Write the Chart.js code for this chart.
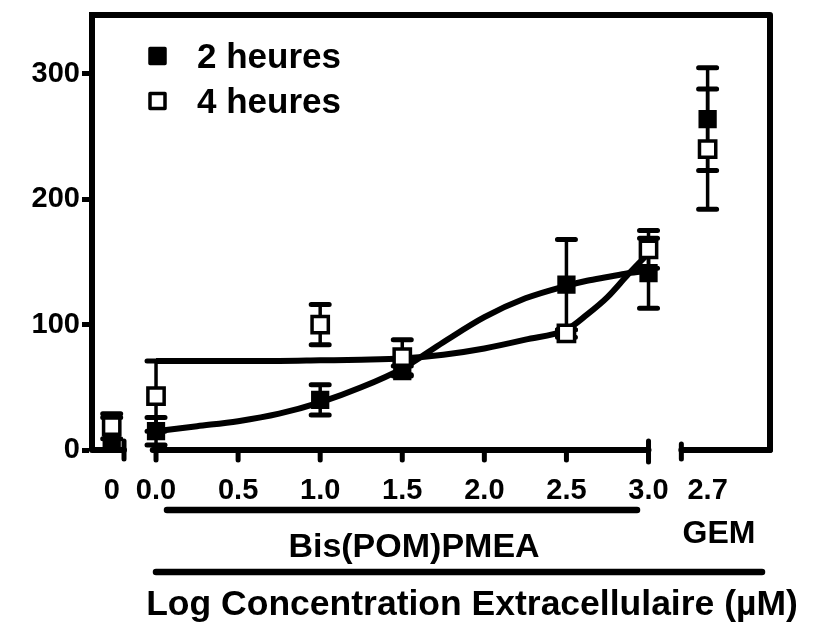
<!DOCTYPE html>
<html>
<head>
<meta charset="utf-8">
<script src="https://cdn.jsdelivr.net/npm/chart.js@4.4.1/dist/chart.umd.min.js"></script>
<style>
  html, body { margin: 0; padding: 0; background: #fff; }
  #wrap { width: 813px; height: 624px; }
</style>
</head>
<body>
<div id="wrap"><canvas id="chart" width="813" height="624"></canvas></div>
<script>
// measured points (log µM) for Bis(POM)PMEA, plus control and GEM
const doses = [0.0, 1.0, 1.5, 2.5, 3.0];
const mean2h = [15, 40, 63, 132, 141];
const err2h = [11, 12, 4, 36, 28];
const mean4h = [43, 100, 74, 93, 160];
const err4h = [28, 16, 14, 3, 15];
// [2h, 4h]
const ctrlMean = [7, 19];
const ctrlErr = [19, 10];
const gemMean = [264, 240];
const gemErr = [41, 48];

// fitted curves
const fitX = [0, 0.25, 0.5, 0.75, 1.0, 1.25, 1.5, 1.75, 2.0, 2.25, 2.5, 2.625, 2.75, 2.875, 3.0];
const fit2h = [15, 19, 23, 29, 38, 50, 65, 86, 106, 121, 131, 135, 138, 141, 143];
const fit4h = [71, 71, 71, 71, 71.5, 72, 73, 76, 81, 88, 96, 108, 122, 140, 157];

const xTicks = [0, 0.5, 1.0, 1.5, 2.0, 2.5, 3.0];
const yTicks = [0, 100, 200, 300];
const ctrlLabel = '0';
const gemLabel = '2.7';
const seriesLabels = ['2 heures', '4 heures'];

// where the broken axis puts the control and GEM columns
const CTRL_X = -0.27, GEM_X = 3.36;
const FONT = '"Liberation Sans", Arial, sans-serif';

function pts(i, means) {
  return [{x: CTRL_X, y: ctrlMean[i]}]
    .concat(doses.map((d, k) => ({x: d, y: means[k]})))
    .concat([{x: GEM_X, y: gemMean[i]}]);
}
function errs(i, e) { return [ctrlErr[i]].concat(e, [gemErr[i]]); }

const errorBars = {
  id: 'errorBars',
  beforeDatasetsDraw(chart) {
    const {ctx, chartArea: a, scales: {x, y}} = chart;
    ctx.save();
    ctx.beginPath();
    ctx.rect(a.left, a.top, a.right - a.left, a.bottom - a.top);
    ctx.clip();
    ctx.strokeStyle = '#000';
    ctx.lineCap = 'round';
    chart.data.datasets.forEach(ds => {
      if (!ds.errs) return;
      ds.data.forEach((p, k) => {
        const e = ds.errs[k];
        const px = x.getPixelForValue(p.x);
        const y1 = y.getPixelForValue(p.y + e), y0 = y.getPixelForValue(p.y - e);
        ctx.lineWidth = 3.5;
        ctx.beginPath(); ctx.moveTo(px, y1); ctx.lineTo(px, y0); ctx.stroke();
        ctx.lineWidth = 5;
        ctx.beginPath();
        ctx.moveTo(px - 9, y1); ctx.lineTo(px + 9, y1);
        ctx.moveTo(px - 9, y0); ctx.lineTo(px + 9, y0);
        ctx.stroke();
      });
    });
    ctx.restore();
  }
};

const frame = {
  id: 'frame',
  afterDraw(chart) {
    const {ctx, chartArea: a, scales: {x}} = chart;
    const b = a.bottom;
    ctx.save();
    ctx.strokeStyle = '#000';
    ctx.fillStyle = '#000';
    ctx.lineCap = 'round';
    ctx.lineJoin = 'round';
    // top + right frame
    ctx.lineWidth = 6;
    ctx.beginPath();
    ctx.moveTo(a.left, a.top); ctx.lineTo(a.right, a.top); ctx.lineTo(a.right, b);
    ctx.stroke();
    // broken x axis
    const segs = [[x.min, -0.195], [-0.02, 3.0], [3.2, x.max]];
    ctx.lineWidth = 6;
    segs.forEach(s => {
      ctx.beginPath();
      ctx.moveTo(x.getPixelForValue(s[0]), b);
      ctx.lineTo(x.getPixelForValue(s[1]), b);
      ctx.stroke();
    });
    // break marks
    ctx.lineWidth = 5;
    [[-0.195, -9, 9], [3.0, -9, 12], [3.2, -6, 9]].forEach(m => {
      const px = x.getPixelForValue(m[0]);
      ctx.beginPath(); ctx.moveTo(px, b + m[1]); ctx.lineTo(px, b + m[2]); ctx.stroke();
    });
    // ticks
    xTicks.slice(0, -1).forEach(v => {
      const px = x.getPixelForValue(v);
      ctx.beginPath(); ctx.moveTo(px, b); ctx.lineTo(px, b + 10); ctx.stroke();
    });
    // group brackets
    ctx.lineWidth = 6.5;
    ctx.beginPath(); ctx.moveTo(167, 510); ctx.lineTo(637, 510); ctx.stroke();
    ctx.beginPath(); ctx.moveTo(156, 572); ctx.lineTo(762, 572); ctx.stroke();
    ctx.textAlign = 'center';
    ctx.textBaseline = 'alphabetic';
    ctx.font = 'bold 34px ' + FONT;
    ctx.fillText('Bis(POM)PMEA', 414, 557);
    ctx.font = 'bold 32px ' + FONT;
    ctx.fillText('GEM', 719, 543);
    ctx.font = 'bold 35.5px ' + FONT;
    ctx.fillText('Log Concentration Extracellulaire (µM)', 472, 615);
    // legend
    ctx.textAlign = 'left';
    ctx.font = 'bold 35px ' + FONT;
    [[1, 56], [0, 101]].forEach(([di, cy]) => {
      const ds = chart.data.datasets[di];
      ctx.lineWidth = 3.5;
      ctx.fillStyle = ds.backgroundColor;
      ctx.fillRect(150, cy - 7.5, 15, 15);
      ctx.strokeStyle = '#000';
      ctx.strokeRect(150, cy - 7.5, 15, 15);
      ctx.fillStyle = '#000';
      ctx.fillText(ds.label, 197, cy + 12);
    });
    ctx.restore();
  }
};

new Chart(document.getElementById('chart'), {
  type: 'scatter',
  data: {
    datasets: [
      { label: seriesLabels[1], data: pts(1, mean4h), errs: errs(1, err4h),
        pointStyle: 'rect', pointRadius: 11.5, borderWidth: 3.5,
        backgroundColor: '#fff', borderColor: '#000', showLine: false },
      { label: seriesLabels[0], data: pts(0, mean2h), errs: errs(0, err2h),
        pointStyle: 'rect', pointRadius: 11.5, borderWidth: 2,
        backgroundColor: '#000', borderColor: '#000', showLine: false },
      { label: 'fit2', data: fitX.map((v, k) => ({x: v, y: fit2h[k]})), showLine: true,
        borderColor: '#000', borderWidth: 6, pointRadius: 0, cubicInterpolationMode: 'monotone' },
      { label: 'fit4', data: fitX.map((v, k) => ({x: v, y: fit4h[k]})), showLine: true,
        borderColor: '#000', borderWidth: 6, pointRadius: 0, cubicInterpolationMode: 'monotone' }
    ]
  },
  options: {
    responsive: false,
    animation: false,
    layout: { padding: { top: 12, right: 43, left: 0, bottom: 0 } },
    plugins: { legend: { display: false }, tooltip: { enabled: false } },
    scales: {
      x: {
        type: 'linear', min: -0.39, max: 3.74,
        afterFit: s => { s.height = 174; },
        afterBuildTicks: s => { s.ticks = [CTRL_X].concat(xTicks, [GEM_X]).map(v => ({value: v})); },
        border: { display: false },
        grid: { display: false, drawTicks: false },
        ticks: {
          autoSkip: false, maxRotation: 0, padding: 24, color: '#000',
          font: { family: FONT, size: 29, weight: 'bold' },
          callback: v => v === CTRL_X ? ctrlLabel : (v === GEM_X ? gemLabel : v.toFixed(1))
        }
      },
      y: {
        min: 0, max: 347,
        afterFit: s => { s.width = 92; },
        afterBuildTicks: s => { s.ticks = yTicks.map(v => ({value: v})); },
        border: { display: true, color: '#000', width: 6 },
        grid: { drawOnChartArea: false, drawTicks: true, tickLength: 10, tickWidth: 5, tickColor: '#000' },
        ticks: { padding: 2, color: '#000', font: { family: FONT, size: 29, weight: 'bold', lineHeight: 0.6 } }
      }
    }
  },
  plugins: [errorBars, frame]
});
</script>
</body>
</html>
